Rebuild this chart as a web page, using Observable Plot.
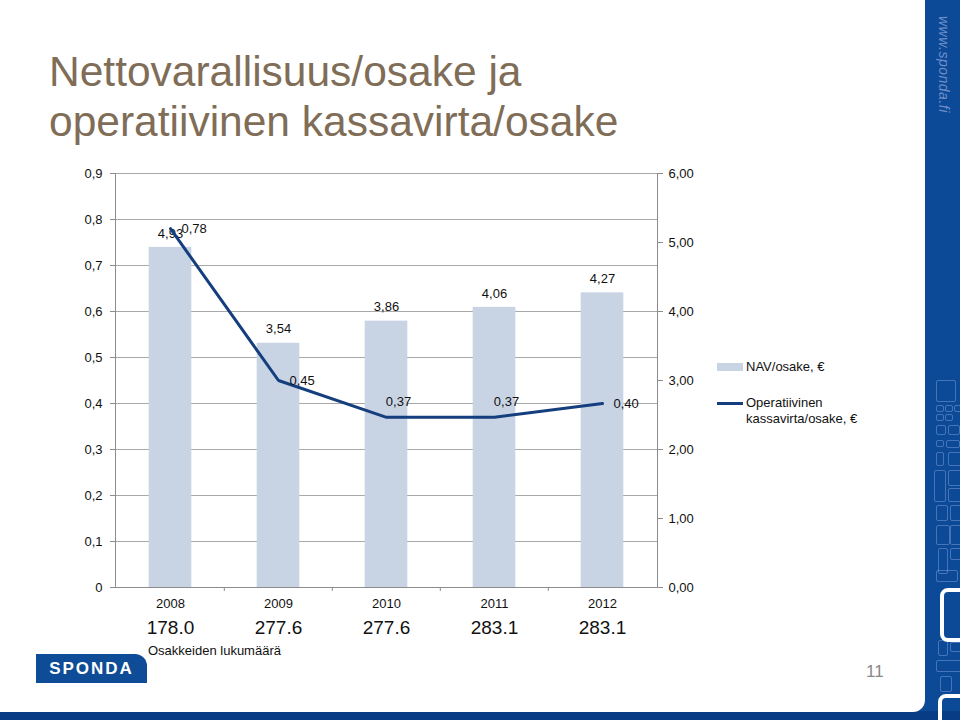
<!DOCTYPE html>
<html><head><meta charset="utf-8">
<script src="https://cdn.jsdelivr.net/npm/d3@7"></script>
<script src="https://cdn.jsdelivr.net/npm/@observablehq/plot@0.6"></script>
<style>
body{margin:0;background:#fff;}
#slide{position:relative;width:960px;height:720px;overflow:hidden;font-family:"Liberation Sans",Arial,sans-serif;background:#0c4a97;}
#bottombar{position:absolute;left:0;top:711px;width:960px;height:9px;background:#083d86;}
#white{position:absolute;left:0;top:0;width:925px;height:712px;background:#fff;border-bottom-right-radius:12px;}
#title{position:absolute;left:49px;top:47px;font-size:42.5px;line-height:50px;color:#7f6d57;white-space:nowrap;}
#url{position:absolute;left:932px;top:16px;transform-origin:0 0;transform:translate(20px,0) rotate(90deg);font-size:14px;font-style:italic;color:#6f8fc8;letter-spacing:0.5px;}
.deco{position:absolute;border:1.5px solid rgba(140,170,225,0.45);border-radius:2px;}
.deco2{position:absolute;border:4px solid #fff;border-radius:8px;}
#logo{position:absolute;left:36px;top:654px;width:111px;height:29px;background:#0e4c97;border-top-right-radius:12px;color:#fff;font-weight:bold;font-size:17px;letter-spacing:2px;text-align:center;line-height:29px;}
#page{position:absolute;left:866px;top:662px;font-size:17px;color:#888;}
#osak{position:absolute;left:148px;top:643px;font-size:13px;color:#111;}
#legend{position:absolute;left:717px;top:358px;font-size:13px;color:#111;}
.sw{position:absolute;left:0;width:26px;}
.lt{position:absolute;left:29px;white-space:nowrap;line-height:16px;}
svg{position:absolute;left:0;top:0;}
</style></head>
<body>
<div id="slide">
  <div id="bottombar"></div>
  <div id="white"></div>
  <div id="url">www.sponda.fi</div>
  <div id="deco"></div>
  <div id="title">Nettovarallisuus/osake ja<br>operatiivinen kassavirta/osake</div>
  <div id="legend">
    <div class="sw" style="top:5px;height:8px;background:#c8d3e4"></div>
    <div class="lt" style="top:1px">NAV/osake, €</div>
    <div class="sw" style="top:44px;height:3px;background:#153e7e"></div>
    <div class="lt" style="top:37px">Operatiivinen<br>kassavirta/osake, €</div>
  </div>
  <div id="osak">Osakkeiden lukumäärä</div>
  <div id="logo">SPONDA</div>
  <div id="page">11</div>
</div>
<script>
const years = ["2008", "2009", "2010", "2011", "2012"];
const nav = [4.93, 3.54, 3.86, 4.06, 4.27];
const cashflow = [0.78, 0.45, 0.37, 0.37, 0.40];
const shares = ["178.0", "277.6", "277.6", "283.1", "283.1"];
const leftTicks = [0, 0.1, 0.2, 0.3, 0.4, 0.5, 0.6, 0.7, 0.8, 0.9];
const rightTicks = [0, 1, 2, 3, 4, 5, 6];

// decorative pattern in the right strip
const deco = document.getElementById("deco");
[[936,380,18,20],[936,405,6,5],[945,405,6,5],[954,405,6,5],[936,414,6,5],[945,414,6,5],[936,425,8,8],[948,425,10,8],
 [936,440,6,5],[946,440,12,6],[936,452,6,12],[948,452,12,12],[934,470,10,30],[948,470,12,14],[948,488,12,12],
 [936,505,10,14],[950,505,10,14],[936,525,12,18],[950,525,10,18],[938,548,8,24],[950,548,10,10],[936,570,20,10],
 [938,640,8,14],[950,642,10,8],[936,660,24,10],[940,676,10,14]]
 .forEach(([l,t,w,h])=>{const d=document.createElement("div");d.className="deco";Object.assign(d.style,{left:l+"px",top:t+"px",width:w+"px",height:h+"px"});deco.appendChild(d);});
[[940,588,30,46],[938,694,30,40]].forEach(([l,t,w,h])=>{const d=document.createElement("div");d.className="deco2";Object.assign(d.style,{left:l+"px",top:t+"px",width:w+"px",height:h+"px"});deco.appendChild(d);});

const k = 0.9 / 6; // right axis (0–6) mapped onto left axis (0–0.9)
const rows = years.map((y, i) => ({year: y, nav: nav[i], cash: cashflow[i], shares: shares[i], i}));
const comma = (v, n) => v.toFixed(n).replace(".", ",");
const W = 960, ML = 115, MR = 303;
const half = (W - ML - MR) / years.length / 2;

const chart = Plot.plot({
  width: 960, height: 720,
  marginLeft: ML, marginRight: MR, marginTop: 173, marginBottom: 133,
  style: {background: "transparent", fontFamily: "Liberation Sans, Arial, sans-serif", fontSize: "13px", color: "#111"},
  x: {type: "band", domain: years, padding: 0, axis: null, label: null},
  y: {domain: [0, 0.9], axis: null, label: null},
  marks: [
    Plot.gridY(leftTicks.slice(1), {stroke: "#a8a8a8", strokeOpacity: 1}),
    Plot.barY(rows, {x: "year", y: d => d.nav * k, fill: "#c8d3e4", insetLeft: 32.7, insetRight: 32.7}),
    Plot.frame({anchor: "left", stroke: "#8c8c8c"}),
    Plot.frame({anchor: "right", stroke: "#8c8c8c"}),
    Plot.frame({anchor: "bottom", stroke: "#8c8c8c"}),
    Plot.axisY(leftTicks, {anchor: "left", label: null, tickSize: 5, tickPadding: 8, stroke: "#8c8c8c", fill: "#111", fontSize: 13,
      tickFormat: d => d === 0 ? "0" : comma(d, 1)}),
    Plot.axisY(rightTicks.map(v => v * k), {anchor: "right", label: null, tickSize: 5, tickPadding: 6, stroke: "#8c8c8c", fill: "#111", fontSize: 13,
      tickFormat: d => comma(d / k, 2)}),
    Plot.axisX(years.slice(1), {anchor: "bottom", label: null, tickSize: 4, tickFormat: () => "", stroke: "#8c8c8c", dx: -half}),
    Plot.axisX(years, {anchor: "bottom", label: null, tickSize: 0, tickPadding: 11, fill: "#111", fontSize: 13}),
    Plot.text(rows, {x: "year", text: "shares", frameAnchor: "bottom", dy: 46, fontSize: 19, fill: "#111"}),
    Plot.text(rows, {x: "year", y: d => d.nav * k, text: d => comma(d.nav, 2), dy: -14, fontSize: 13, fill: "#111"}),
    Plot.line(rows, {x: "year", y: "cash", stroke: "#153e7e", strokeWidth: 3}),
    Plot.text(rows.filter(d => d.i === 0 || d.i === 1 || d.i === 4), {x: "year", y: "cash", text: d => comma(d.cash, 2), textAnchor: "start", dx: 11, fontSize: 13, fill: "#111"}),
    Plot.text(rows.filter(d => d.i === 2 || d.i === 3), {x: "year", y: "cash", text: d => comma(d.cash, 2), dy: -15, dx: 12, fontSize: 13, fill: "#111"})
  ]
});
document.getElementById("slide").insertBefore(chart, document.getElementById("legend"));
</script>
</body></html>
